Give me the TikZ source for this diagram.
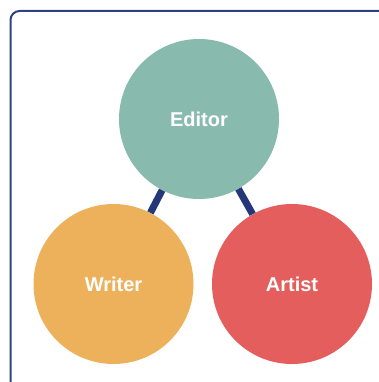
\documentclass[tikz,border=0pt]{standalone}
\usepackage{fontspec}
\setmainfont{Liberation Sans}
\usepackage{tikz}

\definecolor{frameblue}{HTML}{2B4283}
\definecolor{linkblue}{HTML}{233779}
\definecolor{editorgreen}{HTML}{88BBAE}
\definecolor{writerorange}{HTML}{EDB15B}
\definecolor{artistred}{HTML}{E45E5E}

\tikzset{
  role/.style={circle, minimum size=160pt, inner sep=0pt, text=white,
    font=\fontsize{20}{20}\selectfont\bfseries},
  link/.style={draw=linkblue, line width=7pt}
}

\begin{document}
\begin{tikzpicture}[x=1pt, y=-1pt]
\useasboundingbox (0,0) rectangle (379,382);
\clip (0,0) rectangle (379,382);
\draw[frameblue, line width=2pt, rounded corners=9pt] (10.5,11) rectangle (400,400);
\node[role, fill=editorgreen] (editor) at (199,119) {Editor};
\node[role, fill=writerorange] (writer) at (113.5,284) {Writer};
\node[role, fill=artistred] (artist) at (292,284) {Artist};
\draw[link] (editor) -- (writer);
\draw[link] (editor) -- (artist);
\end{tikzpicture}
\end{document}
